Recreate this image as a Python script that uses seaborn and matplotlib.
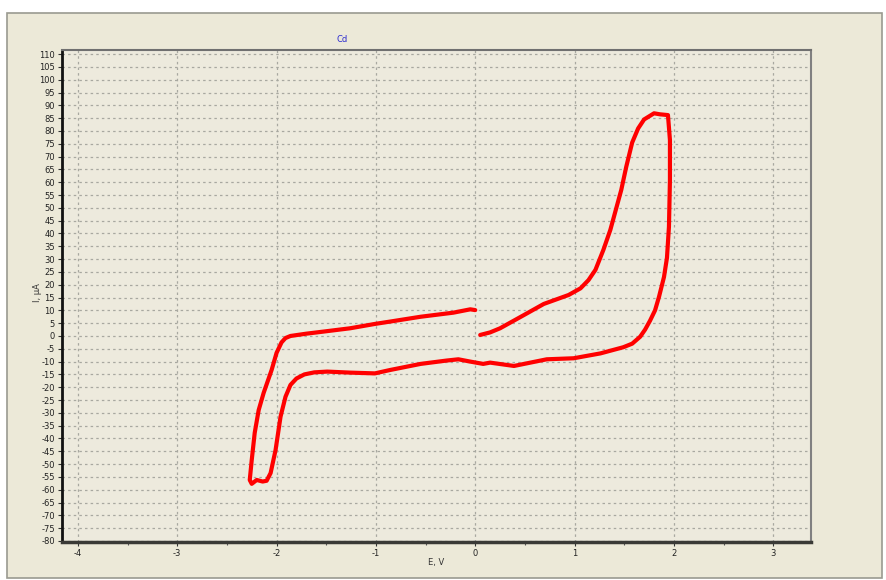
import numpy as np
import pandas as pd
import matplotlib
matplotlib.use("Agg")
import matplotlib.pyplot as plt
from matplotlib.patches import Rectangle
from matplotlib.ticker import MultipleLocator
import seaborn as sns

# Potential E (V) and current I (uA) along the scan
potential_v = [
    0.05, 0.15, 0.25, 0.45, 0.69, 0.94, 1.06, 1.14, 1.21, 1.29, 1.36, 1.41, 1.47, 1.52, 1.58, 1.64,
    1.70, 1.80, 1.86, 1.94,
    1.96, 1.96, 1.95, 1.93, 1.90, 1.85, 1.81, 1.76, 1.71, 1.66, 1.58, 1.49, 1.26, 0.99, 0.72, 0.39,
    0.15, 0.08, -0.05,
    -0.17, -0.29, -0.55, -0.86, -1.01, -1.26, -1.49, -1.62, -1.72, -1.80, -1.86, -1.91, -1.96, -2.01,
    -2.06, -2.10, -2.14, -2.20, -2.25, -2.27, -2.25, -2.22, -2.18, -2.13, -2.05, -2.00, -1.95, -1.91,
    -1.86, -1.70, -1.53, -1.26, -1.01, -0.86, -0.55, -0.22, -0.05, 0.0,
]
current_ua = [
    0.4, 1.4, 3.0, 7.3, 12.5, 16.0, 18.6, 21.8, 25.8, 33.6, 41.4, 48.5, 57.0, 66.0, 75.5, 81.0,
    84.5, 86.9, 86.5, 86.2,
    76.5, 60.9, 42.6, 30.5, 23.0, 15.3, 10.0, 6.0, 2.5, -0.3, -3.0, -4.4, -6.8, -8.7, -9.1, -11.7,
    -10.4, -10.9, -10.0,
    -9.1, -9.6, -10.9, -13.3, -14.6, -14.3, -13.9, -14.2, -15.0, -16.6, -19.1, -23.7, -31.5, -44.5,
    -53.5, -56.5, -56.8, -56.2, -57.7, -56.2, -48.4, -37.8, -28.9, -22.2, -13.3, -6.6, -2.5, -0.8,
    0.0, 0.9, 1.7, 3.0, 4.7, 5.6, 7.5, 9.1, 10.4, 10.1,
]
x_ticks = [-4, -3, -2, -1, 0, 1, 2, 3]
y_ticks = list(range(-80, 111, 5))
title_text = "Cd"
x_label = "E, V"
y_label = "I, \u00b5A"

df = pd.DataFrame({"E": potential_v, "I": current_ua, "order": range(len(potential_v))})

plt.rcParams["axes.unicode_minus"] = False

W, H = 886, 580
fig = plt.figure(figsize=(W / 100, H / 100), dpi=100)
fig.patch.set_facecolor("white")
panel_bg = "#ECE9D8"
fig.patches.append(Rectangle((7 / W, 1 - 578 / H), (882 - 7) / W, (578 - 13) / H,
                             transform=fig.transFigure, facecolor=panel_bg,
                             edgecolor="#9A9A90", linewidth=1.2, zorder=-10))

ax = fig.add_axes([62 / W, 1 - 542 / H, (811 - 62) / W, (542 - 50) / H])
ax.set_zorder(5)
ax.set_facecolor("#EDEADD")

sns.lineplot(data=df, x="E", y="I", sort=False, estimator=None, ax=ax,
             color="#FF0000", linewidth=3.0, zorder=3,
             solid_joinstyle="round", solid_capstyle="round")

ax.set_xlim(-4.16, 3.38)
ax.set_ylim(-80.4, 111.6)
ax.set_xticks(x_ticks)
ax.set_yticks(y_ticks)
ax.xaxis.set_minor_locator(MultipleLocator(0.5))
ax.grid(True, which="major", color="#A8A8A0", linestyle=(0, (2, 2.5)), linewidth=0.9)
ax.tick_params(axis="both", which="major", labelsize=6, colors="#333333", length=3, width=0.8, pad=2)
ax.tick_params(axis="both", which="major", labelcolor="#222222")
ax.tick_params(axis="x", which="minor", length=2, width=0.8, colors="#555555")
ax.set_xlabel("")
ax.set_ylabel("")

for side, col, lw in [("left", "#111111", 2.0), ("bottom", "#3A3A36", 2.5),
                      ("top", "#707070", 1.5), ("right", "#808080", 1.5)]:
    ax.spines[side].set_color(col)
    ax.spines[side].set_linewidth(lw)

fig.text(342 / W, 1 - 40 / H, title_text, color="#2B2BD0", fontsize=6, ha="center", va="center")
fig.text(436 / W, 1 - 562 / H, x_label, color="#333333", fontsize=6, ha="center", va="center")
fig.text(37 / W, 1 - 293 / H, y_label, color="#333333", fontsize=6, ha="center", va="center", rotation=90)

fig.savefig("out.png", dpi=100, facecolor=fig.get_facecolor())
